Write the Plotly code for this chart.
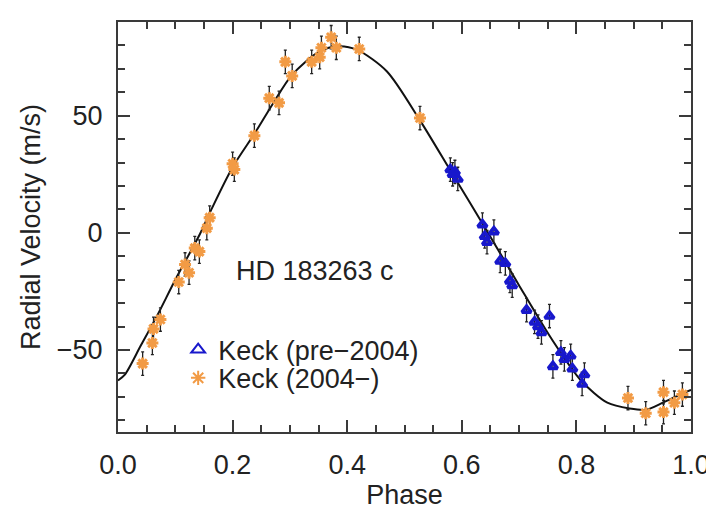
import plotly.graph_objects as go

# ---- data ----
orange_phase = [0.043, 0.060, 0.062, 0.074, 0.106, 0.117, 0.124, 0.134, 0.142, 0.155,
                0.160, 0.200, 0.203, 0.238, 0.264, 0.281, 0.292, 0.304, 0.338, 0.352,
                0.355, 0.372, 0.381, 0.421, 0.527, 0.890, 0.921, 0.952, 0.952, 0.971, 0.985]
orange_rv = [-55.8, -47, -41, -37, -21, -13.5, -17, -6.5, -8, 2,
             6.5, 29.5, 27, 41.5, 57.5, 55.5, 73, 67, 73, 75,
             79, 83.5, 79, 78.5, 49, -70.5, -77, -68, -76.5, -72.5, -69]
orange_err = [5] * len(orange_phase)

blue_phase = [0.580, 0.584, 0.588, 0.593, 0.636, 0.640, 0.644, 0.656, 0.667, 0.676,
              0.684, 0.688, 0.713, 0.727, 0.733, 0.739, 0.753, 0.759, 0.773, 0.779,
              0.790, 0.793, 0.810, 0.814]
blue_rv = [27, 25, 26, 23, 3.5, -1.5, -4, 0.5, -12, -13,
           -20.5, -22.5, -33, -38, -40, -42.5, -35.5, -57, -51, -54,
           -52.5, -58, -64.5, -60.5]
blue_err = [5] * len(blue_phase)

fit_phase = [0.000, 0.012, 0.040, 0.069, 0.100, 0.143, 0.163, 0.200, 0.240, 0.270,
             0.304, 0.349, 0.383, 0.418, 0.469, 0.527, 0.584, 0.641, 0.699, 0.756,
             0.808, 0.854, 0.893, 0.922, 0.951, 0.985, 1.000]
fit_rv = [-63, -60.5, -48, -35, -20, -0.5, 10, 28, 43, 55,
          67.5, 77, 79.6, 78, 69, 48, 25, 2, -22, -45,
          -63, -72.5, -75, -75.5, -72.5, -68.5, -67]

x_ticks = [0.0, 0.2, 0.4, 0.6, 0.8, 1.0]
x_ticklabels = ["0.0", "0.2", "0.4", "0.6", "0.8", "1.0"]
y_ticks = [-50, 0, 50]
y_ticklabels = ["−50", "0", "50"]

FONT = "Liberation Sans, Arial, Helvetica, sans-serif"
TXT = "#222222"
ORANGE = "#F29B45"
BLUE = "#1818CC"
AX = "#3a3a3a"

fig = go.Figure()

fig.add_trace(go.Scatter(
    x=fit_phase, y=fit_rv, mode="lines",
    line=dict(color="#111111", width=2, shape="spline", smoothing=0.8),
    showlegend=False, hoverinfo="skip"))

fig.add_trace(go.Scatter(
    x=blue_phase, y=blue_rv, mode="markers", name="Keck (pre−2004)",
    marker=dict(symbol="triangle-up-open", size=8, color=BLUE,
                line=dict(color=BLUE, width=3.5)),
    error_y=dict(type="data", array=blue_err, visible=True, color="#222222",
                 thickness=1.3, width=1.5),
    legend="legend"))

fig.add_trace(go.Scatter(
    x=orange_phase, y=orange_rv, mode="markers", name="Keck (2004−)",
    marker=dict(symbol="asterisk-open", size=10, color=ORANGE,
                line=dict(color=ORANGE, width=3)),
    error_y=dict(type="data", array=orange_err, visible=True, color="#222222",
                 thickness=1.3, width=1.5),
    legend="legend2"))

fig.add_annotation(x=0.344, y=-16.3, xref="x", yref="y", text="HD 183263 c",
                   showarrow=False, font=dict(family=FONT, size=27, color=TXT))

axis_common = dict(
    showline=True, linecolor=AX, linewidth=2, mirror="allticks",
    ticks="inside", ticklen=12, tickwidth=2, tickcolor=AX,
    showgrid=False, zeroline=False,
    tickfont=dict(family=FONT, size=27, color=TXT),
)

fig.update_xaxes(
    range=[0, 1], tickvals=x_ticks, ticktext=x_ticklabels,
    minor=dict(dtick=0.05, ticks="inside", ticklen=7, tickwidth=2, tickcolor=AX),
    title=dict(text="Phase", font=dict(family=FONT, size=27, color=TXT), standoff=6),
    ticklabelstandoff=8,
    **axis_common)
fig.update_yaxes(
    range=[-85, 90], tickvals=y_ticks, ticktext=y_ticklabels,
    minor=dict(dtick=10, ticks="inside", ticklen=7, tickwidth=2, tickcolor=AX),
    title=dict(text="Radial Velocity (m/s)", font=dict(family=FONT, size=27, color=TXT), standoff=8),
    ticklabelstandoff=8,
    **axis_common)

leg_common = dict(font=dict(family=FONT, size=27, color=TXT), bgcolor="rgba(0,0,0,0)",
                  borderwidth=0, xanchor="left", yanchor="middle", itemwidth=30,
                  itemsizing="constant")
fig.update_layout(
    width=714, height=509,
    margin=dict(l=110, r=22, t=12, b=77),
    paper_bgcolor="white", plot_bgcolor="white",
    legend=dict(x=0.105, y=0.2, **leg_common),
    legend2=dict(x=0.105, y=0.131, **leg_common),
)

fig.write_html("out.html")
